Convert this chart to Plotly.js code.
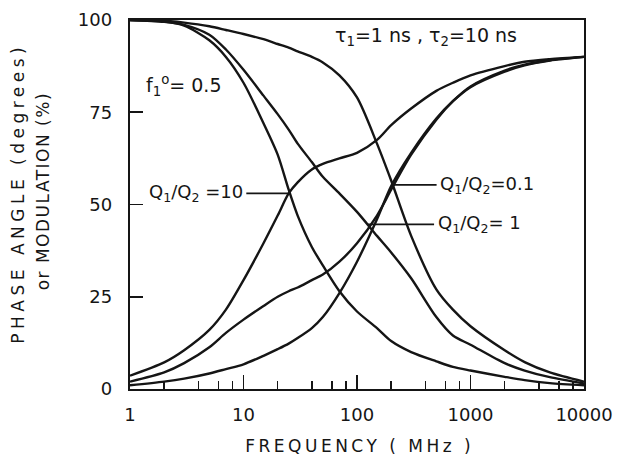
<!DOCTYPE html>
<html>
<head>
<meta charset="utf-8">
<script src="https://cdn.plot.ly/plotly-3.0.1.min.js"></script>
<style>
html,body{margin:0;padding:0;background:#fff;}
#chart{width:624px;height:463px;}
</style>
</head>
<body>
<div id="chart"></div>
<script>
// ---- data ----
const freqMHz = [1,2,3,5,7,10,15,20,25,30,40,50,70,100,150,200,300,500,700,1000,2000,3000,5000,10000];

// modulation (%) curves
const modQ10  = [100,99.6,98.5,94.5,90,83,72,63.5,54,47,38.5,33.5,26.5,21,16.5,13,10,7.5,6,5,3.3,2.4,1.6,1];
const modQ1   = [100,99.5,98.7,96,92,86.5,79.5,74.5,70.3,66.5,61.5,57.5,53,48,41.5,37,30,19.5,14.5,12,7,5,3.2,1.5];
const modQ01  = [100,99.8,99.3,98.3,97.3,96.2,94.8,93.5,92.5,91.5,90,88.5,85,79,66.5,56.5,41.5,27,21.5,17,10.5,7.3,4.5,2];

// phase angle (degrees) curves
const phaseQ10 = [3.6,7.2,10.5,16,21.5,29.5,39.5,47,53,56,59.5,61,62.5,64,67.5,71.5,76,80.8,83,85,87.5,88.7,89.4,90];
const phaseQ1  = [2.0,4.5,7.0,11.3,15.2,18.8,22.5,25,26.5,27.5,29.5,31,34.5,39.5,47,54,63.5,73,78,82,86.3,87.9,89.1,90];
const phaseQ01 = [1.0,2.0,2.8,4.2,5.4,6.7,9,10.8,12.3,13.8,16.5,19.5,26,34.5,46,55,64,73.3,78,81.8,86,87.7,89,90];

const yTickVals = [0,25,50,75,100];
const yTickText = ["0","25","50","75","100"];
const xTickVals = [1,10,100,1000,10000];
const xTickText = ["1","10","100","1000","10000"];
const xMinorVals = [2,4,6,8,20,40,60,80,200,400,600,800,2000,4000,6000,8000];

// labels: [text, crossing freq, crossing value, label-centre freq]
const pairLabels = [
  ["Q<sub>1</sub>/Q<sub>2</sub> =10", 25.7, 53, 3.8],
  ["Q<sub>1</sub>/Q<sub>2</sub>=0.1", 205, 55.3, 1400],
  ["Q<sub>1</sub>/Q<sub>2</sub>= 1", 125, 44.6, 1190]
];

const INK = '#151515';
const FONT = 'DejaVu Sans, Arial, sans-serif';

function curve(y){
  return {x: freqMHz, y: y, type:'scatter', mode:'lines',
          line:{color:INK, width:2.4, shape:'spline', smoothing:0.8},
          hoverinfo:'skip', showlegend:false};
}
const traces = [modQ10, modQ1, modQ01, phaseQ10, phaseQ1, phaseQ01].map(curve);
// invisible trace on the minor-tick axis
traces.push({x:[1,10000], y:[0,0], xaxis:'x2', yaxis:'y', mode:'lines',
             line:{width:0}, hoverinfo:'skip', showlegend:false, opacity:0});

const annotations = [];
pairLabels.forEach(p => {
  annotations.push({
    x: Math.log10(p[1]), y: p[2], xref:'x', yref:'y',
    ax: Math.log10(p[3]), ay: p[2], axref:'x', ayref:'y',
    text: p[0], showarrow:true, arrowhead:0, arrowwidth:1.8, arrowcolor:INK,
    standoff:0, startstandoff:2,
    font:{family:FONT, size:18, color:INK}
  });
});
annotations.push({xref:'paper', yref:'paper', x:0.652, y:0.955, xanchor:'center', yanchor:'middle',
  text:'τ<sub>1</sub>=1 ns , τ<sub>2</sub>=10 ns', showarrow:false,
  font:{family:FONT, size:19, color:INK}});
annotations.push({xref:'paper', yref:'paper', x:0.118, y:0.823, xanchor:'center', yanchor:'middle',
  text:'f<sub>1</sub><sup>o</sup>= 0.5', showarrow:false,
  font:{family:FONT, size:19, color:INK}});
// axis titles
annotations.push({xref:'paper', yref:'paper', x:0.505, y:-0.155, xanchor:'center', yanchor:'middle',
  text:'FREQUENCY ( MHz )', showarrow:false, name:'xt',
  font:{family:FONT, size:17, color:INK}});
annotations.push({xref:'paper', yref:'paper', x:-0.2467, y:0.53, xanchor:'center', yanchor:'middle', textangle:-90,
  text:'PHASE ANGLE (degrees)', showarrow:false, name:'yt1',
  font:{family:FONT, size:17, color:INK}});
annotations.push({xref:'paper', yref:'paper', x:-0.1916, y:0.535, xanchor:'center', yanchor:'middle', textangle:-90,
  text:'or MODULATION (%)', showarrow:false, name:'yt2',
  font:{family:FONT, size:17, color:INK}});

const layout = {
  width:624, height:463,
  margin:{l:130, r:40, t:20, b:74},
  paper_bgcolor:'#fff', plot_bgcolor:'#fff',
  font:{family:FONT, color:INK, size:17},
  xaxis:{type:'log', range:[0,4], tickvals:xTickVals, ticktext:xTickText,
         ticks:'inside', ticklen:14, tickwidth:1.8, tickcolor:INK,
         showline:true, linewidth:2.2, linecolor:INK, mirror:true,
         showgrid:false, zeroline:false, ticklabelstandoff:8,
         tickfont:{family:FONT, size:18, color:INK}},
  xaxis2:{type:'log', range:[0,4], overlaying:'x', anchor:'y', side:'bottom',
          tickvals:xMinorVals, ticks:'inside', ticklen:8, tickwidth:1.6, tickcolor:INK,
          showticklabels:false, showline:false, showgrid:false, zeroline:false},
  yaxis:{range:[0,100], tickvals:yTickVals, ticktext:yTickText,
         ticks:'inside', ticklen:13, tickwidth:1.8, tickcolor:INK,
         showline:true, linewidth:2.2, linecolor:INK, mirror:true,
         showgrid:false, zeroline:false, ticklabelstandoff:12,
         tickfont:{family:FONT, size:18, color:INK}},
  annotations: annotations
};

Plotly.newPlot('chart', traces, layout, {staticPlot:true}).then(() => {
  const spacing = {xt:'3.5px', yt1:'4.5px', yt2:'1.5px'};
  const groups = document.querySelectorAll('#chart g.annotation');
  groups.forEach(g => {
    const idx = +g.getAttribute('data-index');
    const nm = annotations[idx] && annotations[idx].name;
    if (nm && spacing[nm]) {
      g.querySelectorAll('text').forEach(t => t.style.letterSpacing = spacing[nm]);
    }
  });
});
</script>
</body>
</html>
